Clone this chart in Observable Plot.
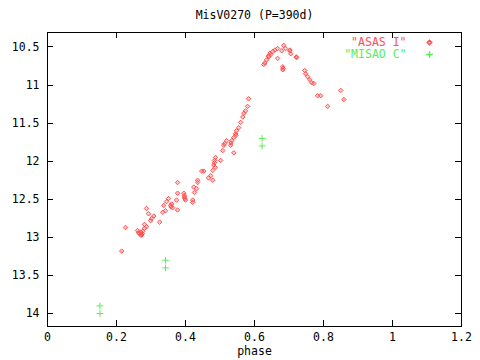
<!DOCTYPE html>
<html>
<head>
<meta charset="utf-8">
<script src="https://cdn.jsdelivr.net/npm/d3@7"></script>
<script src="https://cdn.jsdelivr.net/npm/@observablehq/plot@0.6"></script>
<style>
  html, body { margin: 0; padding: 0; background: #fff; }
</style>
</head>
<body>
<div id="chart"></div>
<script>
const titleText = "MisV0270 (P=390d)";
const xLabel = "phase";
const seriesNames = ["\"ASAS I\"", "\"MISAO C\""];
const xTicks = [0, 0.2, 0.4, 0.6, 0.8, 1, 1.2];
const yTicks = [10.5, 11, 11.5, 12, 12.5, 13, 13.5, 14];

// ASAS I: phase, magnitude
const asasPhase = [
  0.215, 0.226, 0.261, 0.264, 0.267, 0.270, 0.273, 0.276, 0.281, 0.287, 0.281, 0.287, 0.293, 0.299,
  0.302, 0.308, 0.325, 0.334, 0.337, 0.342, 0.345, 0.351, 0.357, 0.363, 0.374, 0.377, 0.377,
  0.395, 0.397, 0.400, 0.421, 0.426, 0.432, 0.435, 0.377, 0.479, 0.397, 0.421, 0.424, 0.435,
  0.447, 0.453, 0.467, 0.473, 0.479, 0.482, 0.484, 0.487, 0.502, 0.508, 0.511, 0.513, 0.519,
  0.531, 0.534, 0.540, 0.540, 0.545, 0.548, 0.554, 0.560, 0.566, 0.569, 0.574, 0.580, 0.583,
  0.627, 0.630, 0.635, 0.641, 0.647, 0.653, 0.659, 0.667, 0.667, 0.679, 0.685, 0.690, 0.702,
  0.705, 0.722, 0.682, 0.682, 0.746, 0.748, 0.754, 0.760, 0.766, 0.772, 0.783, 0.792, 0.812,
  0.850, 0.859, 0.275, 0.270, 0.358, 0.360, 0.398, 0.484, 0.486, 0.532, 0.546, 0.640, 0.645,
  0.683, 0.703, 0.721
];
const asasMag = [
  13.18, 12.87, 12.91, 12.94, 12.95, 12.97, 12.97, 12.92, 12.88, 12.86, 12.83, 12.62, 12.69, 12.78,
  12.75, 12.72, 12.80, 12.67, 12.58, 12.65, 12.53, 12.49, 12.58, 12.61, 12.51, 12.42, 12.64,
  12.42, 12.47, 12.51, 12.51, 12.41, 12.36, 12.28, 12.28, 12.25, 12.45, 12.54, 12.34, 12.25,
  12.13, 12.13, 12.22, 12.19, 12.12, 12.05, 11.99, 11.95, 11.99, 11.86, 11.79, 11.77, 11.73,
  11.79, 11.73, 11.69, 11.89, 11.64, 11.60, 11.56, 11.49, 11.42, 11.37, 11.34, 11.28, 11.18,
  10.73, 10.71, 10.67, 10.63, 10.60, 10.56, 10.54, 10.52, 10.65, 10.55, 10.48, 10.52, 10.55,
  10.59, 10.64, 10.76, 10.80, 10.81, 10.85, 10.89, 10.93, 10.97, 10.98, 11.14, 11.14, 11.28,
  11.07, 11.19, 12.95, 12.93, 12.60, 12.56, 12.49, 12.02, 12.08, 11.76, 11.66, 10.62, 10.58,
  10.78, 10.54, 10.63
];

// MISAO C: phase, magnitude
const misaoPhase = [0.152, 0.152, 0.342, 0.342, 0.622, 0.622];
const misaoMag = [13.90, 14.00, 13.30, 13.40, 11.70, 11.80];

const asas = asasPhase.map((p, i) => ({phase: p, mag: asasMag[i]}));
const misao = misaoPhase.map((p, i) => ({phase: p, mag: misaoMag[i]}));

const red = "#ff5050";
const green = "#55ee55";
const font = "DejaVu Sans Mono";

const xDomain = [0, 1.2];
const yDomain = [10.31, 14.17];
const W = 480, H = 360, mL = 47, mR = 19, mT = 32, mB = 34;
const tickPx = 6;
// tick length converted from pixels to data units
const tx = tickPx * (xDomain[1] - xDomain[0]) / (W - mL - mR);
const ty = tickPx * (yDomain[1] - yDomain[0]) / (H - mT - mB);

const plot = Plot.plot({
  width: W,
  height: H,
  marginLeft: mL,
  marginRight: mR,
  marginTop: mT,
  marginBottom: mB,
  style: {fontFamily: font, fontSize: "11.5px", background: "#fff", color: "#000"},
  x: {domain: xDomain},
  y: {domain: yDomain, reverse: true},
  marks: [
    Plot.axisX({ticks: xTicks, tickSize: 0, tickPadding: 6, tickFormat: d => String(d),
      label: xLabel, labelAnchor: "center", labelArrow: "none", labelOffset: 28, fontSize: 11.5}),
    Plot.axisY({ticks: yTicks, tickSize: 0, tickPadding: 8, tickFormat: d => String(d), label: null, fontSize: 11.5}),
    // inward mirrored ticks (gnuplot style)
    Plot.ruleX(xTicks, {x: d => d, y1: yDomain[1], y2: yDomain[1] - ty, stroke: "#000", strokeWidth: 1, shapeRendering: "crispEdges"}),
    Plot.ruleX(xTicks, {x: d => d, y1: yDomain[0], y2: yDomain[0] + ty, stroke: "#000", strokeWidth: 1, shapeRendering: "crispEdges"}),
    Plot.ruleY(yTicks, {y: d => d, x1: xDomain[0], x2: xDomain[0] + tx, stroke: "#000", strokeWidth: 1, shapeRendering: "crispEdges"}),
    Plot.ruleY(yTicks, {y: d => d, x1: xDomain[1], x2: xDomain[1] - tx, stroke: "#000", strokeWidth: 1, shapeRendering: "crispEdges"}),
    Plot.frame({stroke: "#000", strokeWidth: 1, shapeRendering: "crispEdges"}),
    Plot.dot(asas, {x: "phase", y: "mag", symbol: "diamond2", r: 2, stroke: red, strokeWidth: 1, fill: red, fillOpacity: 0.3}),
    Plot.dot(misao, {x: "phase", y: "mag", symbol: "plus", r: 2.3, stroke: green, strokeWidth: 1}),
    Plot.text([titleText], {frameAnchor: "top", dy: -17, lineAnchor: "middle", text: d => d, fontSize: 11.5, fill: "#000"}),
    Plot.text([seriesNames[0]], {frameAnchor: "top-right", dx: -55, dy: 10, lineAnchor: "middle", text: d => d, textAnchor: "end", fill: red, fontSize: 11.5}),
    Plot.text([seriesNames[1]], {frameAnchor: "top-right", dx: -55, dy: 22, lineAnchor: "middle", text: d => d, textAnchor: "end", fill: green, fontSize: 11.5}),
    Plot.dot([seriesNames[0]], {frameAnchor: "top-right", dx: -32, dy: 10, symbol: "diamond2", r: 2, stroke: red, fill: red, fillOpacity: 0.3}),
    Plot.dot([seriesNames[1]], {frameAnchor: "top-right", dx: -32, dy: 22, symbol: "plus", r: 2.3, stroke: green})
  ]
});
document.getElementById("chart").appendChild(plot);
</script>
</body>
</html>
